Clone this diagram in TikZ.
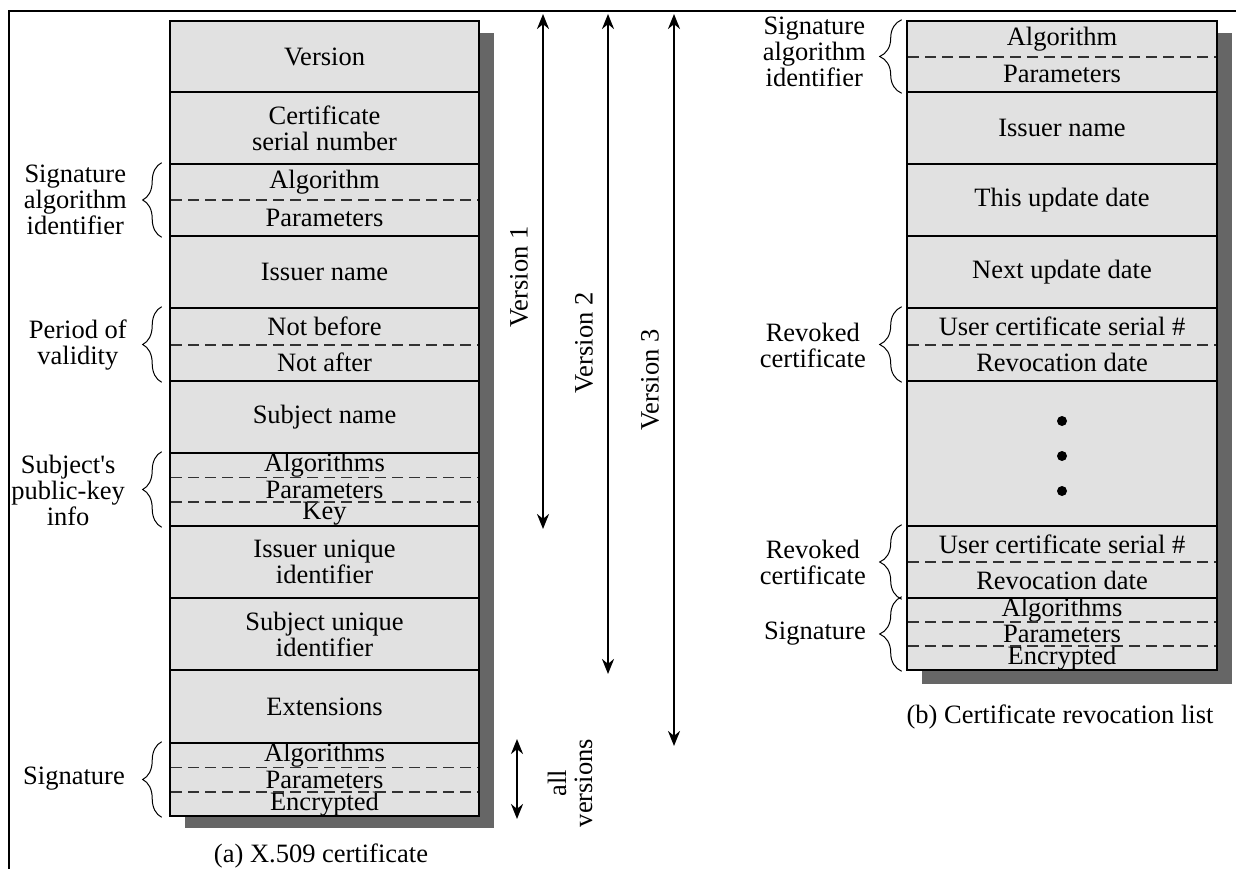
\documentclass[tikz,border=0pt]{standalone}
\usepackage{fontspec}
\setmainfont{Liberation Serif}
\usetikzlibrary{decorations.pathreplacing,arrows.meta}
\definecolor{boxgray}{RGB}{225,225,225}
\definecolor{shgray}{RGB}{102,102,102}
\definecolor{dashgray}{RGB}{50,50,50}
\newcommand\myfs{\fontsize{26.5}{26}\selectfont}
\begin{document}
\begin{tikzpicture}[x=1pt,y=-1pt,
  field/.style={draw=black, fill=boxgray, line width=2.6pt, minimum width=309pt, inner sep=0pt, align=center, font=\myfs},
  rfield/.style={field, minimum width=310pt},
  sub/.style={minimum width=309pt, inner sep=0pt, align=center, font=\myfs},
  rsub/.style={sub, minimum width=310pt},
  sep/.style={draw=dashgray, line width=1.7pt, dash pattern=on 11pt off 6pt, shorten <=1.3pt, shorten >=1.3pt},
  vbrace/.style={decorate, decoration={brace, amplitude=19pt}, line width=1pt},
  rbrace/.style={decorate, decoration={brace, amplitude=22pt}, line width=1pt},
  lbl/.style={align=center, font=\myfs, anchor=east, inner sep=0pt},
  ver/.style={line width=2.4pt, {Stealth[length=15pt,width=12pt]}-{Stealth[length=15pt,width=12pt]}},
  vlab/.style={rotate=90, align=center, font=\myfs, inner sep=0pt},
  dot/.style={circle, fill=black, inner sep=0pt, minimum size=10pt}
]
\useasboundingbox (0,0) rectangle (1236,869);
% frame
\coordinate (fa) at (8,11);
\coordinate (fb) at (1236,11);
\coordinate (fc) at (9,869);
\draw[line width=1.5pt] (fb) -- (fa);
\draw[line width=1.5pt] (9,11) -- (fc);

% ---------- left box: X.509 certificate ----------
\fill[shgray] (185,33) rectangle (494,828);
\node[field, minimum height=71pt] (lver) at (324.5,56.5) {Version};
\node[field, minimum height=72pt] (lcsn) at (324.5,128) {Certificate\\serial number};
\node[field, minimum height=72pt] (lsig) at (324.5,200) {};
\node[field, minimum height=72pt] (liss) at (324.5,272) {Issuer name};
\node[field, minimum height=73pt] (lval) at (324.5,344.5) {};
\node[field, minimum height=72pt] (lsub) at (324.5,417) {Subject name};
\node[field, minimum height=73pt] (lkey) at (324.5,489.5) {};
\node[field, minimum height=72pt] (liuid) at (324.5,562) {Issuer unique\\identifier};
\node[field, minimum height=72pt] (lsuid) at (324.5,634) {Subject unique\\identifier};
\node[field, minimum height=73pt] (lext) at (324.5,706.5) {Extensions};
\node[field, minimum height=73pt] (lsgn) at (324.5,779.5) {};

\node[sub, minimum height=36pt] (lsigA) at (324.5,182) {Algorithm};
\node[sub, minimum height=36pt] (lsigP) at (324.5,218) {Parameters};
\draw[sep] (lsigA.south west) -- (lsigA.south east);

\node[sub, minimum height=36.5pt] (lvalB) at (324.5,326.25) {Not before};
\node[sub, minimum height=36.5pt] (lvalA) at (324.5,362.75) {Not after};
\draw[sep] (lvalB.south west) -- (lvalB.south east);

\node[sub, minimum height=24.3pt] (lkeyA) at (324.5,465.2) {Algorithms};
\node[sub, minimum height=24.3pt] (lkeyP) at (324.5,489.5) {Parameters};
\node[sub, minimum height=24.3pt] (lkeyK) at (324.5,513.8) {Key};
\draw[sep] (lkeyA.south west) -- (lkeyA.south east);
\draw[sep] (lkeyP.south west) -- (lkeyP.south east);

\node[sub, minimum height=24.3pt] (lsgnA) at (324.5,755.2) {Algorithms};
\node[sub, minimum height=24.3pt] (lsgnP) at (324.5,779.5) {Parameters};
\node[sub, minimum height=24.3pt] (lsgnE) at (324.5,803.8) {Encrypted};
\draw[sep] (lsgnA.south west) -- (lsgnA.south east);
\draw[sep] (lsgnP.south west) -- (lsgnP.south east);

% left braces and labels
\draw[vbrace] ([xshift=-7pt]lsig.south west) -- ([xshift=-7pt]lsig.north west);
\draw[vbrace] ([xshift=-7pt]lval.south west) -- ([xshift=-7pt]lval.north west);
\draw[vbrace] ([xshift=-7pt]lkey.south west) -- ([xshift=-7pt]lkey.north west);
\draw[vbrace] ([xshift=-7pt]lsgn.south west) -- ([xshift=-7pt]lsgn.north west);
\node[lbl] (llab1) at (127,200) {Signature\\algorithm\\identifier};
\node[lbl] (llab2) at (127,345) {Period of\\validity};
\node[lbl] (llab3) at (125,490) {Subject\textquotesingle s\\public-key\\info};
\node[lbl] (llab4) at (125,779) {Signature};

\node[font=\myfs, anchor=base] (capa) at (321,862) {(a) X.509 certificate};

% ---------- version arrows ----------
\coordinate (v1t) at (543,14);
\coordinate (v1b) at (543,529);
\coordinate (v2t) at (608,14);
\coordinate (v2b) at (608,674);
\coordinate (v3t) at (674,14);
\coordinate (v3b) at (674,746);
\coordinate (vat) at (517,739);
\coordinate (vab) at (517,819);
\draw[ver] (v1t) -- (v1b);
\draw[ver] (v2t) -- (v2b);
\draw[ver] (v3t) -- (v3b);
\draw[ver] (vat) -- (vab);
\node[vlab] (v1l) at (519,277) {Version 1};
\node[vlab] (v2l) at (584,343) {Version 2};
\node[vlab] (v3l) at (650,380) {Version 3};
\node[vlab] (val) at (570,783) {all\\versions};

% ---------- right box: CRL ----------
\fill[shgray] (922,33) rectangle (1232,684);
\node[rfield, minimum height=71pt] (rsig) at (1062,56.5) {};
\node[rfield, minimum height=72pt] (riss) at (1062,128) {Issuer name};
\node[rfield, minimum height=72pt] (rthis) at (1062,200) {This update date};
\node[rfield, minimum height=72pt] (rnext) at (1062,272) {Next update date};
\node[rfield, minimum height=73pt] (rrev1) at (1062,344.5) {};
\node[rfield, minimum height=145pt] (rdots) at (1062,453.5) {};
\node[rfield, minimum height=72pt] (rrev2) at (1062,562) {};
\node[rfield, minimum height=72pt] (rsgn) at (1062,634) {};

\node[rsub, minimum height=35.5pt] (rsigA) at (1062,38.75) {Algorithm};
\node[rsub, minimum height=35.5pt] (rsigP) at (1062,74.25) {Parameters};
\draw[sep] (rsigA.south west) -- (rsigA.south east);

\node[rsub, minimum height=36.5pt] (rrev1U) at (1062,326.25) {User certificate serial \#};
\node[rsub, minimum height=36.5pt] (rrev1D) at (1062,362.75) {Revocation date};
\draw[sep] (rrev1U.south west) -- (rrev1U.south east);

\node[dot] (d1) at (1062,421) {};
\node[dot] (d2) at (1062,456) {};
\node[dot] (d3) at (1062,491) {};

\node[rsub, minimum height=36pt] (rrev2U) at (1062,544) {User certificate serial \#};
\node[rsub, minimum height=36pt] (rrev2D) at (1062,580) {Revocation date};
\draw[sep] (rrev2U.south west) -- (rrev2U.south east);

\node[rsub, minimum height=24pt] (rsgnA) at (1062,610) {Algorithms};
\node[rsub, minimum height=24pt] (rsgnP) at (1062,634) {Parameters};
\node[rsub, minimum height=24pt] (rsgnE) at (1062,658) {Encrypted};
\draw[sep] (rsgnA.south west) -- (rsgnA.south east);
\draw[sep] (rsgnP.south west) -- (rsgnP.south east);

% right braces and labels
\draw[rbrace] ([xshift=-4pt]rsig.south west) -- ([xshift=-4pt]rsig.north west);
\draw[rbrace] ([xshift=-4pt]rrev1.south west) -- ([xshift=-4pt]rrev1.north west);
\draw[rbrace] ([xshift=-4pt]rrev2.south west) -- ([xshift=-4pt]rrev2.north west);
\draw[rbrace] ([xshift=-4pt]rsgn.south west) -- ([xshift=-4pt]rsgn.north west);
\node[lbl] (rlab1) at (866,52) {Signature\\algorithm\\identifier};
\node[lbl] (rlab2) at (866,345) {Revoked\\certificate};
\node[lbl] (rlab3) at (866,562) {Revoked\\certificate};
\node[lbl] (rlab4) at (866,634) {Signature};

\node[font=\myfs, anchor=base] (capb) at (1060,723) {(b) Certificate revocation list};
\end{tikzpicture}
\end{document}
